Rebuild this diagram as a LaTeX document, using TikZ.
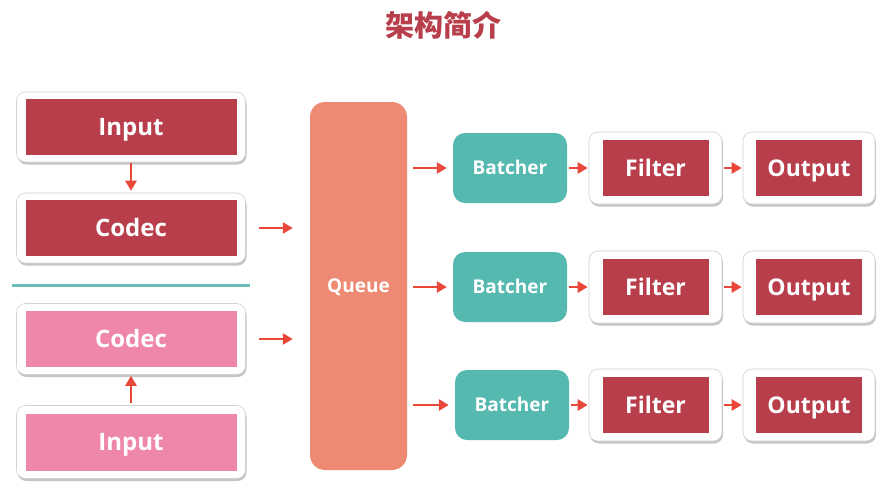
\documentclass[tikz,border=0pt]{standalone}
\usepackage{fontspec}
\setmainfont{Open Sans}
\newfontfamily\cjk{Noto Sans CJK SC}
\usetikzlibrary{arrows.meta,shadows}
\definecolor{dred}{HTML}{B83E4B}
\definecolor{pink}{HTML}{EF87A8}
\definecolor{teal2}{HTML}{56B9B0}
\definecolor{queuec}{HTML}{EE8A73}
\definecolor{arrc}{HTML}{E8473A}
\definecolor{linec}{HTML}{6BBDB8}
\begin{document}
\begin{tikzpicture}[x=1pt,y=-1pt,
  frame/.style={draw=black!18, fill=white, rounded corners=9pt, line width=0.6pt,
    drop shadow={opacity=0.45, shadow xshift=1pt, shadow yshift=-2.5pt},
    minimum width=#1, minimum height=72pt, inner sep=0pt},
  frame/.default=229pt,
  inbox/.style={fill=#1, text=white, inner sep=0pt, minimum height=56pt,
    text height=17pt, text depth=0pt,
    font=\fontsize{24}{24}\selectfont\bfseries},
  smallbox/.style={fill=dred, text=white, inner sep=0pt, minimum width=106pt, minimum height=56pt,
    text height=16.3pt, text depth=0pt,
    font=\fontsize{23}{23}\selectfont\bfseries},
  batcher/.style={fill=teal2, text=white, rounded corners=12pt, minimum width=114pt, minimum height=70pt,
    inner sep=0pt, text height=13.5pt, text depth=0pt, font=\fontsize{19}{19}\selectfont\bfseries},
  arr/.style={draw=arrc, line width=2.6pt, -{Triangle[length=10pt,width=11pt]}}
]
\useasboundingbox (0,0) rectangle (886,490);
\fill[white] (0,0) rectangle (886,490);
% title
\node[font=\cjk\bfseries\fontsize{29}{29}\selectfont, text=dred] (title) at (443,25) {架构简介};
% left column
\node[frame, minimum height=70pt] (in1f) at (131,127) {};
\node[inbox=dred, minimum width=211pt] (in1) at (in1f.center) {Input};
\node[frame, minimum height=70pt] (cd1f) at (131,228) {};
\node[inbox=dred, minimum width=211pt] (cd1) at (cd1f.center) {Codec};
\node[frame, minimum height=71pt] (cd2f) at (131,339) {};
\node[inbox=pink, minimum width=211pt] (cd2) at (cd2f.center) {Codec};
\node[frame, minimum height=73pt] (in2f) at (131,442) {};
\node[inbox=pink, minimum width=211pt, minimum height=57pt] (in2) at (in2f.center) {Input};
\coordinate (l1) at (12,285);
\coordinate (l2) at (250,285);
\draw[linec, line width=3pt] (l1) -- (l2);
\draw[arr, shorten <=1pt, shorten >=2pt] (in1f.south) -- (cd1f.north);
\draw[arr, shorten <=2pt, shorten >=1pt] (in2f.north) -- (cd2f.north |- cd2f.south);
% queue
\node[fill=queuec, rounded corners=15pt, minimum width=97pt, minimum height=368pt, inner sep=0pt,
  text=white, text height=13.5pt, text depth=0pt, font=\fontsize{19}{19}\selectfont\bfseries] (queue) at (358.5,286) {Queue};
\draw[arr, shorten <=13pt, shorten >=17pt] (cd1f.east) -- (cd1f.east -| queue.west);
\draw[arr, shorten <=13pt, shorten >=17pt] (cd2f.east) -- (cd2f.east -| queue.west);
% rows
\foreach \i/\y/\bx in {1/168/510, 2/287/510, 3/405/512}{
  \node[batcher] (b\i) at (\bx,\y) {Batcher};
  \node[frame=133pt] (f\i f) at (655.5,\y) {};
  \node[smallbox] (f\i) at (f\i f.center) {Filter};
  \node[frame=132pt] (o\i f) at (809,\y) {};
  \node[smallbox] (o\i) at (o\i f.center) {Output};
  \draw[arr, shorten <=6pt, shorten >=6pt] (b\i.west -| queue.east) -- (b\i.west);
  \draw[arr, shorten <=2pt, shorten >=1pt] (b\i.east) -- (f\i f.west);
  \draw[arr, shorten <=2pt, shorten >=1pt] (f\i f.east) -- (o\i f.west);
}
\end{tikzpicture}
\end{document}
